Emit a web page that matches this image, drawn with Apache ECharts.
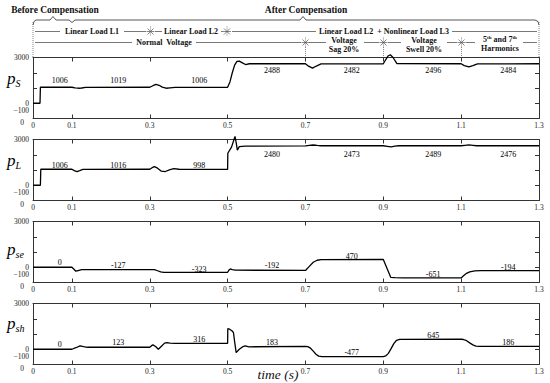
<!DOCTYPE html>
<html>
<head>
<meta charset="utf-8">
<script src="https://cdn.jsdelivr.net/npm/echarts@6/dist/echarts.min.js"></script>
<style>html,body{margin:0;padding:0;background:#fff}#c{width:550px;height:383px}</style>
</head>
<body>
<div id="c"></div>
<script>
// ---------------- DATA ----------------
// time axis (s) sample points and values (W)
const timeS = [0, 0.018, 0.019, 0.1, 0.108, 0.116, 0.125, 0.135, 0.3, 0.308, 0.316, 0.324, 0.332, 0.342, 0.352, 0.365, 0.5, 0.506, 0.512, 0.518, 0.524, 0.53, 0.538, 0.546, 0.556, 0.7, 0.708, 0.718, 0.728, 0.74, 0.9, 0.906, 0.912, 0.918, 0.925, 0.935, 1.1, 1.108, 1.12, 1.13, 1.142, 1.3];
const pS = [0, 0, 1050, 1050, 1010, 985, 1000, 1040, 1050, 1150, 1240, 1180, 1060, 985, 1010, 1040, 1050, 1400, 2000, 2500, 2740, 2760, 2650, 2540, 2590, 2590, 2430, 2300, 2440, 2580, 2590, 2850, 3100, 3180, 3000, 2600, 2590, 2470, 2380, 2470, 2580, 2590];

const timeL = [0, 0.019, 0.02, 0.1, 0.106, 0.113, 0.12, 0.128, 0.3, 0.306, 0.312, 0.32, 0.33, 0.34, 0.352, 0.362, 0.375, 0.5, 0.5005, 0.51, 0.519, 0.522, 0.525, 0.53, 0.545, 0.7, 0.71, 0.72, 0.73, 0.74, 0.9, 0.91, 0.92, 0.93, 0.94, 1.1, 1.11, 1.12, 1.13, 1.14, 1.3];
const pL = [0, 0, 1050, 1050, 960, 900, 960, 1040, 1050, 1150, 1220, 1120, 920, 900, 1030, 1090, 1050, 1040, 2100, 2500, 3200, 2800, 2300, 2530, 2570, 2580, 2610, 2640, 2610, 2590, 2590, 2550, 2510, 2560, 2590, 2590, 2620, 2650, 2620, 2590, 2590];

const timeSe = [0, 0.1, 0.104, 0.11, 0.116, 0.125, 0.3, 0.312, 0.32, 0.328, 0.336, 0.5, 0.503, 0.507, 0.512, 0.52, 0.7, 0.71, 0.72, 0.73, 0.74, 0.9, 0.919, 0.93, 0.95, 1.1, 1.106, 1.114, 1.122, 1.135, 1.15, 1.3];
const pSe = [0, 0, -100, -260, -220, -160, -150, -160, -230, -310, -330, -330, -200, -110, -150, -190, -210, 60, 330, 460, 505, 510, -660, -680, -700, -700, -560, -400, -300, -240, -215, -215];

const timeSh = [0, 0.1, 0.11, 0.121, 0.13, 0.14, 0.3, 0.304, 0.308, 0.315, 0.322, 0.33, 0.338, 0.344, 0.352, 0.365, 0.5, 0.5005, 0.506, 0.511, 0.515, 0.518, 0.522, 0.53, 0.538, 0.545, 0.555, 0.7, 0.706, 0.713, 0.72, 0.727, 0.734, 0.742, 0.9, 0.906, 0.913, 0.92, 0.927, 0.934, 0.942, 1.1, 1.106, 1.114, 1.122, 1.13, 1.138, 1.146, 1.3];
const pSh = [0, 0, 100, 220, 170, 130, 130, 220, 290, 180, 0, 200, 400, 440, 400, 390, 395, 1360, 1300, 1210, 1100, 500, -220, 0, 150, 220, 160, 190, 170, 70, -120, -330, -450, -480, -480, -440, -270, 40, 370, 590, 650, 655, 640, 560, 420, 290, 210, 190, 190];

// annotated average values shown in each panel
const annotTimes = [0.069, 0.219, 0.427, 0.614, 0.819, 1.028, 1.221];
const annotS = ['1006', '1019', '1006', '2488', '2482', '2496', '2484'];
const annotL = ['1006', '1016', '998', '2480', '2473', '2489', '2476'];
const annotSe = ['0', '-127', '-323', '-192', '470', '-651', '-194'];
const annotSh = ['0', '123', '316', '183', '-477', '645', '186'];
// vertical placement (in W) of the annotation texts
const annotPosS = [1500, 1500, 1500, 2134, 2134, 2134, 2134];
const annotPosL = [1316, 1316, 1316, 2036, 2036, 2036, 2036];
const annotPosSe = [340, 121, -141, 121, 711, -489, 10];
const annotPosSh = [311, 423, 620, 423, -193, 902, 462];

// axis tick labels
const xTickLabels = [0, 0.1, 0.3, 0.5, 0.7, 0.9, 1.1, 1.3];
const xTicks = [0.1, 0.3, 0.5, 0.7, 0.9, 1.1];
const yTicks = [0, 1000, 2000];
const yLabelValues = [-1000, -500, 0, 3000];
const yLabelTexts = ['', '\u2212100', '0', '3000'];
const yStrayLabel = '0';   // the extra "0" printed under each y axis

// ---------------- CHART ----------------
const SERIF = 'Liberation Serif, Times New Roman, serif';
const panels = [
  {t: timeS, v: pS, at: annotS, ap: annotPosS, name: '{p|p}{s|S}', nameY: 78},
  {t: timeL, v: pL, at: annotL, ap: annotPosL, name: '{p|p}{s|L}', nameY: 160},
  {t: timeSe, v: pSe, at: annotSe, ap: annotPosSe, name: '{p|p}{s|se}', nameY: 249},
  {t: timeSh, v: pSh, at: annotSh, ap: annotPosSh, name: '{p|p}{s|sh}', nameY: 323}
];
const tops = [57.5, 139.5, 221.5, 303.5];
const H = 61;
const AX = '#333';

const grid = [], xAxis = [], yAxis = [], series = [];
panels.forEach((p, i) => {
  grid.push({left: 33, right: 11, top: tops[i], height: H, containLabel: false});
  xAxis.push({
    type: 'value', gridIndex: i, min: 0, max: 1.3, position: 'bottom',
    axisLine: {show: true, onZero: false, lineStyle: {color: AX, width: 1}},
    axisTick: {show: true, inside: true, length: 4, customValues: xTicks, lineStyle: {color: AX}},
    axisLabel: {show: true, customValues: xTickLabels, margin: 3, color: '#222',
      fontFamily: SERIF, fontSize: 7.5,
      formatter: v => (Math.abs(v) < 1e-9 ? '0' : v.toFixed(1))},
    splitLine: {show: false}
  });
  xAxis.push({
    type: 'value', gridIndex: i, min: 0, max: 1.3, position: 'top',
    axisLine: {show: true, onZero: false, lineStyle: {color: AX, width: 1}},
    axisTick: {show: true, inside: true, length: 4, customValues: xTicks, lineStyle: {color: AX}},
    axisLabel: {show: false}, splitLine: {show: false}
  });
  yAxis.push({
    type: 'value', gridIndex: i, min: -1000, max: 3000, position: 'left',
    name: yStrayLabel, nameLocation: 'start', nameGap: 3.5,
    nameTextStyle: {fontFamily: SERIF, fontSize: 7.5, color: '#222', align: 'right', verticalAlign: 'middle', padding: [0, 9, 0, 0]},
    axisLine: {show: true, onZero: false, lineStyle: {color: AX, width: 1}},
    axisTick: {show: true, inside: true, length: 4, customValues: yTicks, lineStyle: {color: AX}},
    axisLabel: {show: true, customValues: yLabelValues, margin: 4, color: '#222',
      fontFamily: SERIF, fontSize: 7.5, showMinLabel: true, showMaxLabel: true, hideOverlap: false,
      formatter: v => {
        const k = yLabelValues.indexOf(Math.round(v));
        return k < 0 ? '' : yLabelTexts[k];
      }},
    splitLine: {show: false}
  });
  yAxis.push({
    type: 'value', gridIndex: i, min: -1000, max: 3000, position: 'right',
    axisLine: {show: true, onZero: false, lineStyle: {color: AX, width: 1}},
    axisTick: {show: true, inside: true, length: 4, customValues: yTicks, lineStyle: {color: AX}},
    axisLabel: {show: false}, splitLine: {show: false}
  });
  series.push({
    type: 'line', xAxisIndex: 2 * i, yAxisIndex: 2 * i,
    data: p.t.map((t, k) => [t, p.v[k]]),
    showSymbol: false, clip: false, silent: true, color: '#000',
    lineStyle: {color: '#000', width: 1.3}
  });
  const texts = p.at;
  series.push({
    type: 'custom', xAxisIndex: 2 * i, yAxisIndex: 2 * i, silent: true, clip: false,
    data: annotTimes.map((t, k) => [t, p.ap[k]]),
    renderItem: (params, api) => {
      const pt = api.coord([api.value(0), api.value(1)]);
      return {type: 'text', x: pt[0], y: pt[1], style: {
        text: String(texts[params.dataIndex]), fill: '#000', font: '8px ' + SERIF,
        textAlign: 'center', textVerticalAlign: 'middle'}};
    }
  });
});

// ---------- header annotations (graphic) ----------
const G = [];
const LC = '#555';
function hline(x1, x2, y) { G.push({type: 'line', silent: true, shape: {x1, y1: y, x2, y2: y}, style: {stroke: LC, lineWidth: 0.8}}); }
function vdot(x, y1, y2) { G.push({type: 'line', silent: true, shape: {x1: x, y1, x2: x, y2}, style: {stroke: '#666', lineWidth: 0.8, lineDash: [1, 1]}}); }
function star(cx, cy) {
  const s = {stroke: '#555', lineWidth: 0.7};
  G.push({type: 'line', silent: true, shape: {x1: cx, y1: cy - 5, x2: cx, y2: cy + 5}, style: Object.assign({lineDash: [1, 1]}, s)});
  G.push({type: 'line', silent: true, shape: {x1: cx - 4, y1: cy, x2: cx + 4, y2: cy}, style: s});
  G.push({type: 'line', silent: true, shape: {x1: cx - 3, y1: cy - 3, x2: cx + 3, y2: cy + 3}, style: s});
  G.push({type: 'line', silent: true, shape: {x1: cx - 3, y1: cy + 3, x2: cx + 3, y2: cy - 3}, style: s});
}
function txt(text, x, y, size, extra) {
  G.push({type: 'text', silent: true, x: x, y: y, style: Object.assign({
    text: text, fill: '#111', font: 'bold ' + size + 'px ' + SERIF, textAlign: 'center', textVerticalAlign: 'middle'}, extra || {})});
}
txt('Before Compensation', 55, 10, 9.5);
txt('After Compensation', 306, 10, 9.5);
// brace
G.push({type: 'polyline', silent: true, shape: {points: [[33, 25], [34, 21.5], [36, 20], [50, 20], [53, 16.5], [56, 20], [69, 20], [72, 22.5], [75, 20], [300, 20], [303, 16.5], [306, 20], [535, 20], [538, 21.5], [539, 25]]},
  style: {stroke: '#444', fill: null, lineWidth: 0.9}});
vdot(33, 22, 57);
vdot(539, 22, 57);
// row 1
const r1 = 31.5, r2 = 42.5;
[[35, 60], [124, 146], [155, 162], [221, 223], [232, 316], [452, 537]].forEach(s => hline(s[0], s[1], r1));
star(150.5, r1); star(227, r1);
txt('Linear Load L1', 92, r1, 8);
txt('Linear Load L2', 191, r1, 8);
txt('Linear Load L2  + Nonlinear Load L3', 384, r1, 8);
// row 2
[[35, 132], [196, 301], [309, 326], [364, 379], [388, 401], [447, 457], [466, 475], [523, 537]].forEach(s => hline(s[0], s[1], r2));
star(305.5, r2); star(383.5, r2); star(461.5, r2);
vdot(305.5, 47, 57); vdot(383.5, 47, 57); vdot(461.5, 47, 57);
txt('Normal  Voltage', 164, r2, 8);
txt('Voltage', 344, 40, 8); txt('Sag 20%', 344, 49.5, 8);
txt('Voltage', 424, 40, 8); txt('Swell 20%', 424, 49.5, 8);
G.push({type: 'text', silent: true, x: 500, y: 39.5, style: {
  text: '{n|5}{u|th}{n| and 7}{u|th}', textAlign: 'center', textVerticalAlign: 'middle', fill: '#111',
  rich: {n: {font: 'bold 8px ' + SERIF, fill: '#111', lineHeight: 10},
         u: {font: 'bold 5px ' + SERIF, fill: '#111', lineHeight: 10, verticalAlign: 'top'}}}});
txt('Harmonics', 500, 48.5, 8);

// panel y titles
panels.forEach(p => {
  G.push({type: 'text', silent: true, x: 7, y: p.nameY, style: {
    text: p.name, textAlign: 'left', textVerticalAlign: 'middle', fill: '#000',
    rich: {p: {font: 'italic 17px ' + SERIF, fill: '#000'},
           s: {font: 'italic 10px ' + SERIF, fill: '#000', padding: [10, 0, 0, 0]}}}});
});
// x axis title
G.push({type: 'text', silent: true, x: 278, y: 374.5, style: {
  text: 'time (s)', font: 'italic 13.5px ' + SERIF, fill: '#111', textAlign: 'center', textVerticalAlign: 'middle'}});

const chart = echarts.init(document.getElementById('c'), null, {renderer: 'svg'});
chart.setOption({
  animation: false,
  backgroundColor: '#fff',
  grid, xAxis, yAxis, series,
  graphic: G
});
</script>
</body>
</html>
